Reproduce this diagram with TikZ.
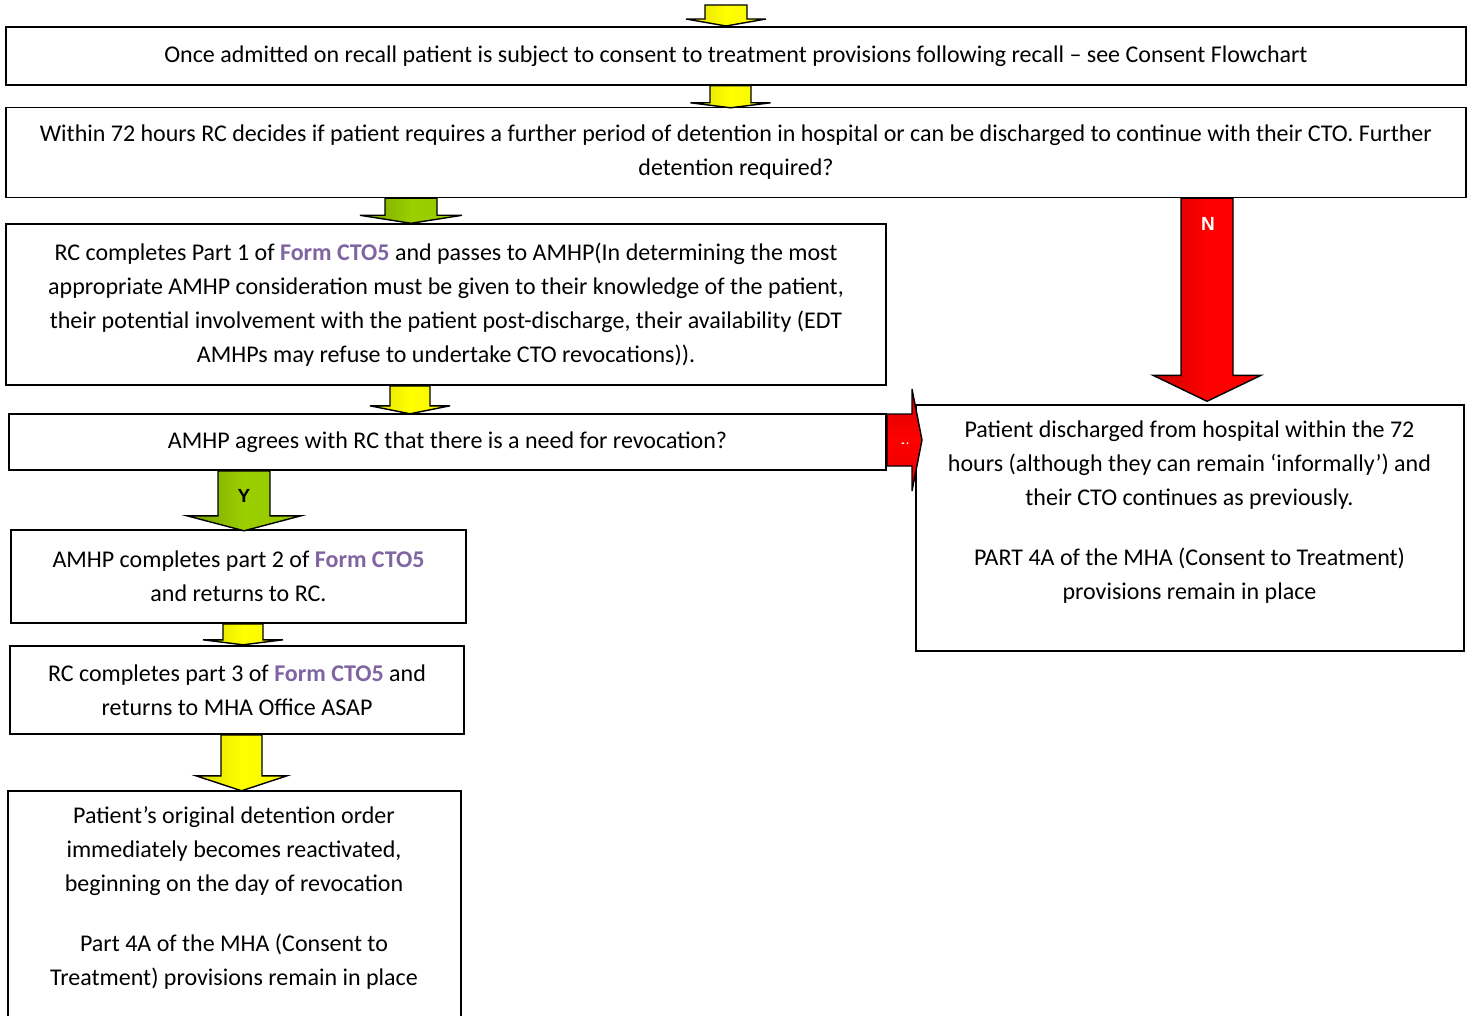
\documentclass[tikz,border=0pt]{standalone}
\usepackage{fontspec}
\setmainfont{Carlito}
\newfontfamily\arialfont{Liberation Sans}
\definecolor{formpurple}{HTML}{8064A2}
\newcommand\formcto{\textcolor{formpurple}{\bfseries Form CTO5}}
% block arrow pointing down: #1 style, #2 top centre, #3 shaft half-width,
% #4 shaft length, #5 head half-width, #6 head length
\newcommand\blockdown[6]{%
  \path[#1] (#2) ++(-#3,0) -- ++(2*#3,0) -- ++(0,#4) -- ++(#5-#3,0)
    -- ++(-#5,#6) -- ++(-#5,-#6) -- ++(#5-#3,0) -- cycle;}
\tikzset{
  box/.style={draw=black, line width=1.6pt, align=center, inner sep=0pt,
    font=\fontsize{24}{34}\selectfont},
  flowtext/.style={align=center, inner sep=0pt, font=\fontsize{24}{34}\selectfont},
  arrowline/.style={draw=black, line width=1.4pt, line join=miter},
  yellowarrow/.style={arrowline, left color=yellow!86!black, right color=yellow!97!black, middle color=yellow},
  greenarrow/.style={arrowline, left color={rgb,255:red,118;green,158;blue,0}, right color={rgb,255:red,150;green,200;blue,0}, middle color={rgb,255:red,155;green,207;blue,0}},
  redarrow/.style={arrowline, left color={rgb,255:red,200;green,0;blue,0}, right color={rgb,255:red,250;green,0;blue,0}, middle color=red},
  arrowlabel/.style={font=\arialfont\bfseries\fontsize{19}{19}\selectfont, inner sep=0pt}
}
\begin{document}
\begin{tikzpicture}[x=1pt,y=-1pt]
\useasboundingbox (0,0) rectangle (1473,1016);
\clip (0,0) rectangle (1473,1016);

% boxes
\node[box, minimum width=1460, minimum height=58] (b1) at (736,56)
  {Once admitted on recall patient is subject to consent to treatment provisions following recall -- see Consent Flowchart};
\node[box, minimum width=1460, minimum height=90] (b2) at (736,152.5)
  {Within 72 hours RC decides if patient requires a further period of detention in hospital or can be discharged to continue with their CTO. Further\\ detention required?};
\node[box, minimum width=880, minimum height=161] (b3) at (446,304.5)
  {RC completes Part 1 of \formcto{} and passes to AMHP(In determining the most\\
   appropriate AMHP consideration must be given to their knowledge of the patient,\\
   their potential involvement with the patient post-discharge, their availability (EDT\\
   AMHPs may refuse to undertake CTO revocations)).};
\node[box, minimum width=877, minimum height=56] (b4) at (447.5,442)
  {AMHP agrees with RC that there is a need for revocation?};
\node[box, minimum width=455, minimum height=93] (b5) at (238.5,576.5)
  {AMHP completes part 2 of \formcto\\ and returns to RC.};
\node[box, minimum width=454, minimum height=88] (b6) at (237,690)
  {RC completes part 3 of \formcto{} and\\ returns to MHA Office ASAP};
\node[box, minimum width=453, minimum height=260] (b7) at (234.5,921) {};
\node[flowtext] (t7) at (234,898)
  {Patient’s original detention order\\ immediately becomes reactivated,\\ beginning on the day of revocation\\[26pt]
   Part 4A of the MHA (Consent to\\ Treatment) provisions remain in place};
\node[box, minimum width=548, minimum height=246] (br) at (1190,528) {};
\node[flowtext] (tr) at (1189.5,512)
  {Patient discharged from hospital within the 72\\ hours (although they can remain ‘informally’) and\\ their CTO continues as previously.\\[26pt]
   PART 4A of the MHA (Consent to Treatment)\\ provisions remain in place};

% block arrows between the boxes
\coordinate (a0top) at (726,5);
\blockdown{yellowarrow}{a0top}{21}{14}{40}{7}
\blockdown{yellowarrow}{730.5,0 |- b1.south}{20.5}{17}{40}{5}
\blockdown{greenarrow}{411,0 |- b2.south}{26}{17}{51}{8}
\blockdown{redarrow}{1207,0 |- b2.south}{26}{177}{54}{26}
\blockdown{yellowarrow}{410,0 |- b3.south}{20}{20}{40}{8}
\blockdown{greenarrow}{244,0 |- b4.south}{26}{45}{57}{15}
\blockdown{yellowarrow}{243,0 |- b5.south}{20}{16}{40}{5}
\blockdown{yellowarrow}{241.5,0 |- b6.south}{20.5}{41}{45.5}{15}

% sideways arrow from the revocation question to the discharge box
\path[arrowline, top color={rgb,255:red,215;green,0;blue,0}, bottom color={rgb,255:red,225;green,0;blue,0}, middle color=red]
  (b4.east |- 0,414) -- (912,414) -- (912,389) -- (922,440) -- (912,491)
  -- (912,466) -- (b4.east |- 0,466) -- cycle;

% arrow labels
\node[arrowlabel, text=white] (nlab) at (1208,224) {N};
\node[arrowlabel, text=black] (ylab) at (244,496) {Y};
\begin{scope}
  \clip (895,436) rectangle (915,443.5);
  \node[arrowlabel, text=white, font=\arialfont\bfseries\fontsize{11}{11}\selectfont] (nsmall) at (905,447) {N};
\end{scope}
\end{tikzpicture}
\end{document}
